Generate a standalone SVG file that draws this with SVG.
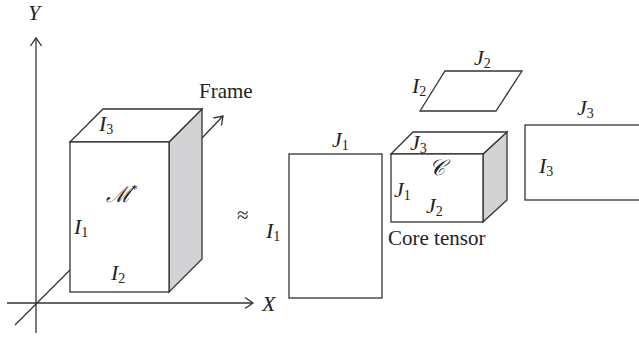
<svg xmlns="http://www.w3.org/2000/svg" width="639" height="338" viewBox="0 0 639 338">
<style>
.ln{stroke:#333;stroke-width:1.3;fill:none}
.sh{stroke:#333;stroke-width:1.3;fill:#fff;stroke-linejoin:miter}
.gr{stroke:#333;stroke-width:1.3;fill:#d3d3d5}
.t{font-family:"Liberation Serif",serif;font-size:21px;fill:#222}
.i{font-family:"Liberation Serif",serif;font-size:22px;font-style:italic;fill:#222}
.s{font-size:14px;font-style:normal}
</style>
<defs>
<marker id="ah" markerWidth="12" markerHeight="12" refX="0" refY="0" viewBox="-9 -6 10 12" orient="auto" markerUnits="userSpaceOnUse">
<path d="M-8,-5.5 L0,0 L-8,5.5" fill="none" stroke="#333" stroke-width="1.3"/>
</marker>
</defs>
<g id="connectors">
<line class="ln" x1="36" y1="333" x2="36" y2="38" marker-end="url(#ah)"/>
<line class="ln" x1="7" y1="303" x2="253" y2="303" marker-end="url(#ah)"/>
<line class="ln" x1="15" y1="325" x2="70" y2="270"/>
<line class="ln" x1="202" y1="138" x2="223" y2="116" marker-end="url(#ah)"/>
</g>
<g id="axis-labels">
<text class="i" x="28" y="20">Y</text>
<text class="i" x="262" y="311">X</text>
</g>
<g id="tensor-M">
<polygon class="gr" points="169,142 202,109 202,259 169,292"/>
<polygon class="sh" points="70,142 103,109 202,109 169,142"/>
<rect class="sh" x="70" y="142" width="99" height="150"/>
<text class="i" x="99" y="131">I<tspan class="s" dy="3">3</tspan></text>
<text class="i" x="106" y="202" font-size="21">ℳ<tspan font-size="12" dy="-9">*</tspan></text>
<text class="i" x="74" y="234">I<tspan class="s" dy="3">1</tspan></text>
<text class="i" x="111" y="280">I<tspan class="s" dy="3">2</tspan></text>
<text class="t" x="199" y="98">Frame</text>
</g>
<g id="approx">
<text class="t" x="237" y="222" font-size="16">≈</text>
</g>
<g id="factor-1">
<rect class="sh" x="289" y="154" width="93" height="144"/>
<text class="i" x="332" y="147">J<tspan class="s" dy="3">1</tspan></text>
<text class="i" x="266" y="238">I<tspan class="s" dy="3">1</tspan></text>
</g>
<g id="factor-2">
<polygon class="sh" points="445,71 522,71 496,111 420,111"/>
<text class="i" x="474" y="65">J<tspan class="s" dy="3">2</tspan></text>
<text class="i" x="412" y="93">I<tspan class="s" dy="3">2</tspan></text>
</g>
<g id="core-tensor">
<polygon class="gr" points="483,154 507,132 507,200 483,222"/>
<polygon class="sh" points="391,154 413,132 507,132 483,154"/>
<rect class="sh" x="391" y="154" width="92" height="68"/>
<text class="i" x="410" y="150">J<tspan class="s" dy="3">3</tspan></text>
<text class="i" x="429" y="175" font-size="18">𝒞</text>
<text class="i" x="394" y="197">J<tspan class="s" dy="3">1</tspan></text>
<text class="i" x="426" y="213">J<tspan class="s" dy="3">2</tspan></text>
<text class="t" x="388" y="245">Core tensor</text>
</g>
<g id="factor-3">
<rect class="sh" x="525" y="125" width="125" height="75"/>
<text class="i" x="577" y="115">J<tspan class="s" dy="3">3</tspan></text>
<text class="i" x="539" y="173">I<tspan class="s" dy="3">3</tspan></text>
</g>
</svg>
